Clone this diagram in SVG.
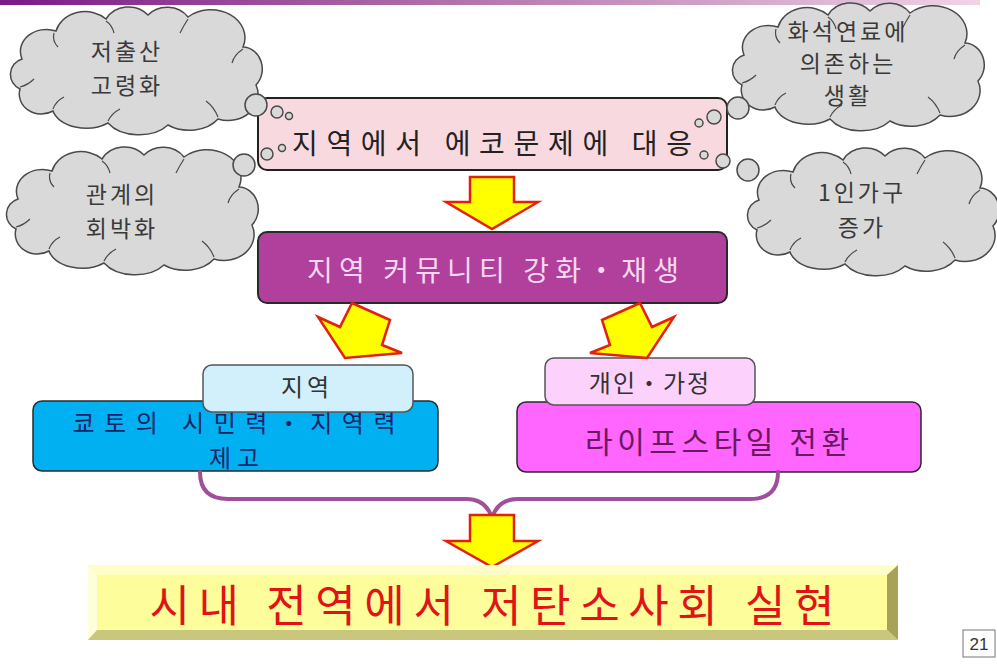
<svg xmlns="http://www.w3.org/2000/svg" width="997" height="664" viewBox="0 0 997 664">
<style>
.cloud{fill:#d9d9d9;stroke:#4a4a4a;stroke-width:1.5}
.inner{fill:none;stroke:#4a4a4a;stroke-width:1.2}
.bub{fill:#d9d9d9;stroke:#4a4a4a;stroke-width:1.5}
.ko{font-family:"Noto Sans CJK KR","Noto Sans",sans-serif;text-anchor:middle}
.ct{font-size:23px;fill:#3a3a3a;letter-spacing:3px}
.arrow{fill:#ffff00;stroke:#e3200c;stroke-width:2.5;stroke-linejoin:miter}
.brace{fill:none;stroke:#a0509a;stroke-width:4;stroke-linecap:round}
</style>
<defs>
<linearGradient id="bar" x1="0" x2="1" y1="0" y2="0">
<stop offset="0" stop-color="#7a1a88"/>
<stop offset="0.45" stop-color="#b070a8"/>
<stop offset="1" stop-color="#f0d4e6"/>
</linearGradient>
<path id="cloudShape" d="M14,52 A26,22 0 0 1 48,24 A30,26 0 0 1 98,12 A26,24 0 0 1 140,8 A26,24 0 0 1 180,10 A34,28 0 0 1 235,40 A20,22 0 0 1 248,78 A30,26 0 0 1 210,112 A34,24 0 0 1 160,118 A36,24 0 0 1 100,116 A34,22 0 0 1 45,104 A22,20 0 0 1 12,82 A16,16 0 0 1 14,52 Z"/>
<path id="cloudInner" d="M46,26 Q44,34 50,40 M98,14 Q104,18 106,26 M180,12 Q176,18 172,26 M235,42 Q226,48 224,56 M210,110 Q206,100 198,94 M100,114 Q104,106 112,102 M45,102 Q48,94 56,90 M12,80 Q20,78 26,72"/>
</defs>
<rect x="0" y="0" width="997" height="664" fill="#ffffff"/>
<rect x="0" y="0" width="980" height="5" fill="url(#bar)"/>

<g id="box-eco">
<rect x="258" y="98" width="469" height="72" rx="9" fill="#f9d9e0" stroke="#222" stroke-width="2"/>
<text class="ko" x="492" y="154" font-size="28" fill="#222" textLength="400" lengthAdjust="spacing">지역에서 에코문제에 대응</text>
</g>

<g id="cloud-aging">
<use href="#cloudShape" class="cloud" transform="translate(8,7)"/>
<use href="#cloudInner" class="inner" transform="translate(8,7)"/>
<text class="ko ct" x="127" y="60">저출산</text>
<text class="ko ct" x="127" y="94">고령화</text>
<circle class="bub" cx="256" cy="105" r="11"/>
<circle class="bub" cx="277" cy="112" r="6"/>
<circle class="bub" cx="289" cy="116" r="3.5"/>
</g>

<g id="cloud-relation">
<use href="#cloudShape" class="cloud" transform="translate(4,147)"/>
<use href="#cloudInner" class="inner" transform="translate(4,147)"/>
<text class="ko ct" x="122" y="203">관계의</text>
<text class="ko ct" x="122" y="237">회박화</text>
<circle class="bub" cx="244" cy="165" r="11"/>
<circle class="bub" cx="267" cy="154" r="6"/>
<circle class="bub" cx="282" cy="148" r="3.5"/>
</g>

<g id="cloud-fossil">
<use href="#cloudShape" class="cloud" transform="translate(730,3)"/>
<use href="#cloudInner" class="inner" transform="translate(730,3)"/>
<text class="ko ct" x="848" y="40" font-size="22">화석연료에</text>
<text class="ko ct" x="848" y="72" font-size="22">의존하는</text>
<text class="ko ct" x="848" y="104" font-size="22">생활</text>
<circle class="bub" cx="738" cy="108" r="11"/>
<circle class="bub" cx="714" cy="117" r="7"/>
<circle class="bub" cx="699" cy="123" r="4"/>
</g>

<g id="cloud-single">
<use href="#cloudShape" class="cloud" transform="translate(745,148)"/>
<use href="#cloudInner" class="inner" transform="translate(745,148)"/>
<text class="ko ct" x="862" y="201">1인가구</text>
<text class="ko ct" x="862" y="236">증가</text>
<circle class="bub" cx="748" cy="170" r="11"/>
<circle class="bub" cx="723" cy="161" r="7"/>
<circle class="bub" cx="704" cy="155" r="4"/>
</g>

<g id="box-community">
<rect x="258" y="232" width="469" height="71" rx="9" fill="#b0409c" stroke="#2a2a2a" stroke-width="2"/>
<text class="ko" x="493" y="281" font-size="28" fill="#f6d8f0" textLength="372" lengthAdjust="spacing">지역 커뮤니티 강화・재생</text>
</g>

<g id="box-kyoto">
<rect x="33" y="401" width="405" height="70" rx="9" fill="#00b0f0" stroke="#2a2a2a" stroke-width="1.5"/>
<text class="ko" x="234" y="432" font-size="24" fill="#1a2366" textLength="323" lengthAdjust="spacing">쿄토의 시민력・지역력</text>
<text class="ko" x="237" y="467" font-size="24" fill="#1a2366" letter-spacing="6">제고</text>
</g>

<g id="label-region">
<rect x="203" y="365" width="210" height="47" rx="9" fill="#d2f0fc" stroke="#555" stroke-width="1.5"/>
<text class="ko" x="307" y="396" font-size="24" fill="#333" letter-spacing="4">지역</text>
</g>

<g id="box-lifestyle">
<rect x="517" y="402" width="404" height="70" rx="9" fill="#ff66ff" stroke="#2a2a2a" stroke-width="1.5"/>
<text class="ko" x="717" y="453" font-size="30" fill="#6a1860" textLength="264" lengthAdjust="spacing">라이프스타일 전환</text>
</g>

<g id="label-household">
<rect x="545" y="358" width="210" height="47" rx="9" fill="#fcd2fc" stroke="#555" stroke-width="1.5"/>
<text class="ko" x="650" y="392" font-size="24" fill="#333" letter-spacing="2">개인・가정</text>
</g>

<g id="connectors">
<polygon class="arrow" points="470,177 514,177 514,202 538,202 492,229 446,202 470,202"/>
<polygon class="arrow" points="318,317 340,327 352,303 390,320 382,345 402,353 345,358"/>
<polygon class="arrow" points="674,317 652,327 640,303 602,320 610,345 590,353 647,358"/>
<path class="brace" d="M200,472 Q200,499 228,499 L466,499 Q486,499 492,518 Q498,499 518,499 L750,499 Q778,499 778,472"/>
<polygon class="arrow" points="470,515 514,515 514,541 538,541 492,567 446,541 470,541"/>
</g>

<g id="box-goal">
<rect x="88" y="565" width="810" height="75" fill="#fdfd9c"/>
<polygon points="88,565 898,565 887,575 97,575" fill="#fefec6"/>
<polygon points="88,565 97,575 97,630 88,640" fill="#fefed8"/>
<polygon points="898,565 898,640 887,630 887,575" fill="#a8a258"/>
<polygon points="88,640 97,630 887,630 898,640" fill="#c9c67e"/>
<text class="ko" x="492" y="622" font-size="44" fill="#e01414" textLength="685" lengthAdjust="spacing">시내 전역에서  저탄소사회 실현</text>
</g>

<g id="page-number">
<rect x="963" y="630" width="32" height="27" fill="#ffffff" stroke="#777" stroke-width="1"/>
<text x="979" y="650" font-family="Liberation Sans, Arial, sans-serif" font-size="17" fill="#333" text-anchor="middle">21</text>
</g>
</svg>
